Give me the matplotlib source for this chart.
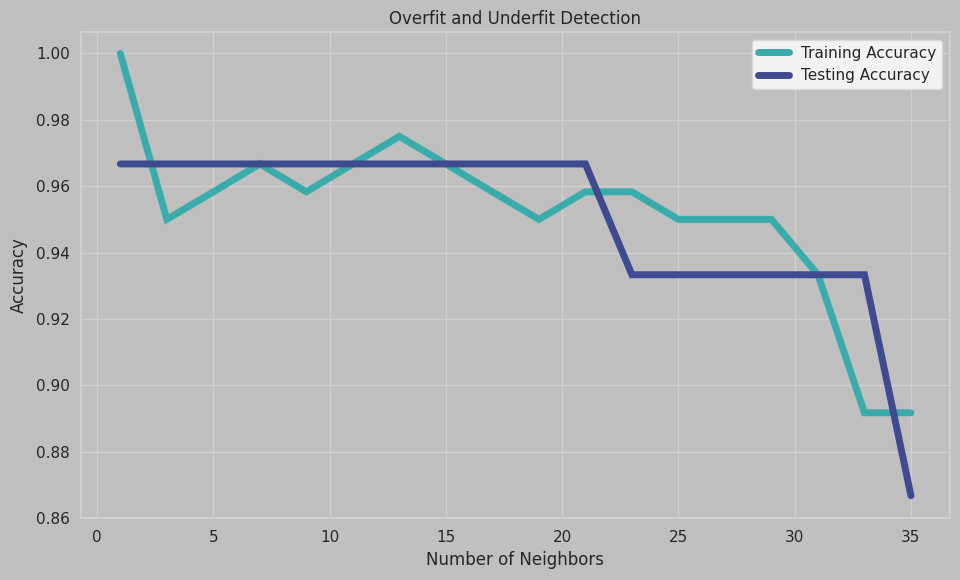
import matplotlib
matplotlib.use("Agg")
import matplotlib.pyplot as plt

neighbors = [1, 3, 5, 7, 9, 11, 13, 15, 17, 19, 21, 23, 25, 27, 29, 31, 33, 35]
train_acc = [1.0, 0.95, 0.9583, 0.9667, 0.9583, 0.9667, 0.975, 0.9667, 0.9583, 0.95,
             0.9583, 0.9583, 0.95, 0.95, 0.95, 0.9333, 0.8917, 0.8917]
test_acc = [0.9667, 0.9667, 0.9667, 0.9667, 0.9667, 0.9667, 0.9667, 0.9667, 0.9667, 0.9667,
            0.9667, 0.9333, 0.9333, 0.9333, 0.9333, 0.9333, 0.9333, 0.8667]

bg = "#bfbfbf"
fig = plt.figure(figsize=(9.6, 5.8), dpi=100, facecolor=bg)
ax = fig.add_axes([0.0844, 0.107, 0.905, 0.838])
ax.set_facecolor(bg)

ax.plot(neighbors, train_acc, color="#3aabab", lw=5, solid_capstyle="round",
        solid_joinstyle="miter", label="Training Accuracy")
ax.plot(neighbors, test_acc, color="#3f4a8f", lw=5, solid_capstyle="round",
        solid_joinstyle="miter", label="Testing Accuracy")

ax.grid(True, color="#d0d0d0", lw=1)
ax.set_axisbelow(True)
for s in ax.spines.values():
    s.set_color("#d3d3d3")
    s.set_linewidth(1.2)
ax.tick_params(length=0, labelsize=11, colors="#262626")
ax.tick_params(axis="x", pad=9)
ax.tick_params(axis="y", pad=8)
ax.set_xticks([0, 5, 10, 15, 20, 25, 30, 35])
ax.set_yticks([0.86, 0.88, 0.90, 0.92, 0.94, 0.96, 0.98, 1.00])
ax.set_ylim(0.86, 1.0065)
ax.set_xlim(-0.69, 36.67)
ax.set_xlabel("Number of Neighbors", fontsize=12, color="#262626", labelpad=4)
ax.set_ylabel("Accuracy", fontsize=12, color="#262626", labelpad=6)
ax.set_title("Overfit and Underfit Detection", fontsize=12, color="#262626")
leg = ax.legend(loc="upper right", fontsize=11, facecolor="#f2f2f2", edgecolor="#d9d9d9",
                framealpha=1, fancybox=True)
for t in leg.get_texts():
    t.set_color("#262626")

fig.savefig("out.png", dpi=100, facecolor=bg)
